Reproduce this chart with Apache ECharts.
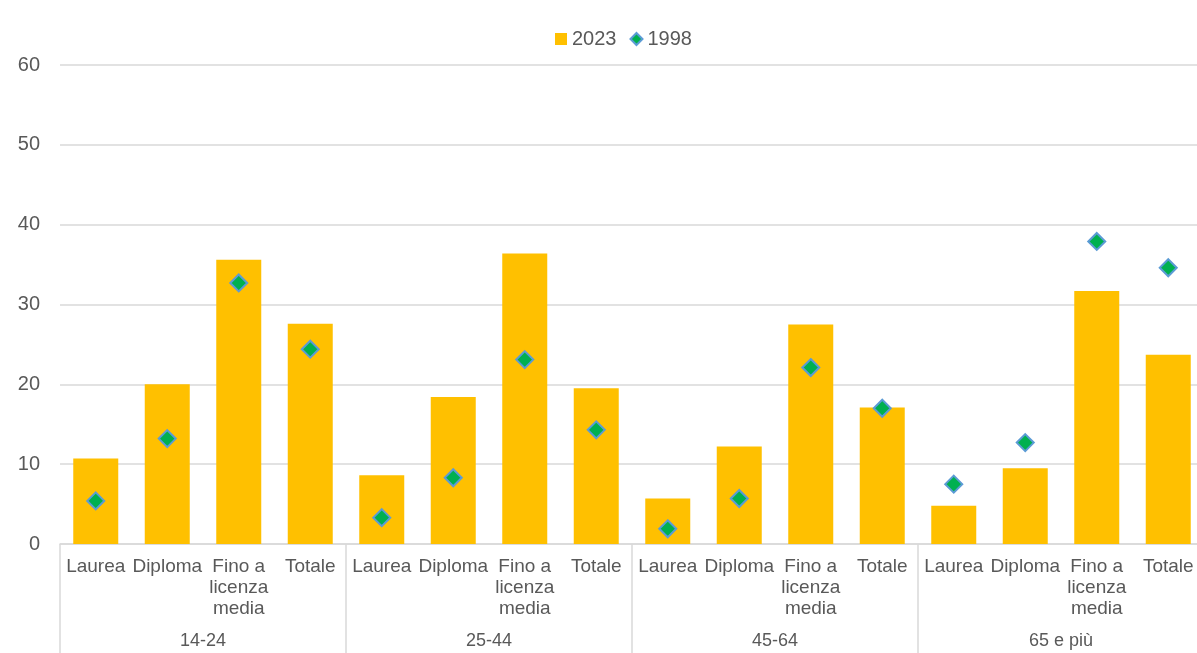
<!DOCTYPE html>
<html>
<head>
<meta charset="utf-8">
<script src="https://cdn.jsdelivr.net/npm/echarts@6/dist/echarts.min.js"></script>
<style>
  html, body { margin: 0; padding: 0; background: #ffffff; }
  #chart { width: 1197px; height: 653px; }
</style>
</head>
<body>
<div id="chart"></div>
<script>
// Age groups and education levels (two-level category axis)
const ageGroups = ['14-24', '25-44', '45-64', '65 e più'];
const eduLevels = ['Laurea', 'Diploma', 'Fino a\nlicenza\nmedia', 'Totale'];

// Values per group, in the order of eduLevels
const values2023 = [
  10.7, 20.0, 35.6, 27.6,
  8.6, 18.4, 36.4, 19.5,
  5.7, 12.2, 27.5, 17.1,
  4.8, 9.5, 31.7, 23.7
];
const values1998 = [
  5.4, 13.2, 32.7, 24.4,
  3.3, 8.3, 23.1, 14.3,
  1.9, 5.7, 22.1, 17.0,
  7.5, 12.7, 37.9, 34.6
];

const yTicks = { min: 0, max: 60, interval: 10 };

const categories = [];
ageGroups.forEach(() => eduLevels.forEach(e => categories.push(e)));

const textColor = '#595959';
const lineColor = '#D9D9D9';
const fontFamily = '"Liberation Sans", Arial, sans-serif';

const chart = echarts.init(document.getElementById('chart'), null, { renderer: 'canvas' });
chart.setOption({
  animation: false,
  textStyle: { fontFamily: fontFamily },
  legend: {
    top: 24,
    left: 550,
    itemWidth: 12,
    itemHeight: 12,
    itemGap: 13,
    textStyle: { color: textColor, fontSize: 20, fontFamily: fontFamily },
    data: [
      { name: '2023', icon: 'rect', itemStyle: { color: '#FFC000' } },
      { name: '1998', icon: 'diamond', itemStyle: { color: '#00B050', borderColor: '#5B9BD5', borderWidth: 2 } }
    ]
  },
  // the plot area runs slightly past the right edge of the canvas
  grid: { left: 60, right: -7, top: 65, bottom: 109, containLabel: false, outerBoundsMode: 'none' },
  xAxis: [
    {
      type: 'category',
      data: categories,
      position: 'bottom',
      axisLine: { show: true, lineStyle: { color: lineColor, width: 1.5 } },
      axisTick: { show: false },
      axisLabel: {
        interval: 0,
        color: textColor,
        fontSize: 19,
        lineHeight: 21,
        margin: 12,
        fontFamily: fontFamily
      }
    },
    {
      type: 'category',
      data: ageGroups,
      position: 'bottom',
      axisLine: { show: false },
      axisTick: { show: true, length: 110, lineStyle: { color: lineColor, width: 1.5 } },
      axisLabel: {
        color: textColor,
        fontSize: 18,
        margin: 88,
        fontFamily: fontFamily
      }
    }
  ],
  yAxis: {
    type: 'value',
    min: yTicks.min,
    max: yTicks.max,
    interval: yTicks.interval,
    axisLine: { show: false },
    axisTick: { show: false },
    splitLine: { lineStyle: { color: lineColor, width: 1.5 } },
    axisLabel: { color: textColor, fontSize: 20, margin: 20, fontFamily: fontFamily }
  },
  series: [
    {
      name: '2023',
      type: 'bar',
      xAxisIndex: 0,
      data: values2023,
      barWidth: 45,
      itemStyle: { color: '#FFC000' }
    },
    {
      name: '1998',
      type: 'scatter',
      xAxisIndex: 0,
      data: values1998,
      symbol: 'diamond',
      symbolSize: [17, 17],
      itemStyle: { color: '#00B050', borderColor: '#5B9BD5', borderWidth: 2, opacity: 1 },
      z: 5
    }
  ]
});
</script>
</body>
</html>
